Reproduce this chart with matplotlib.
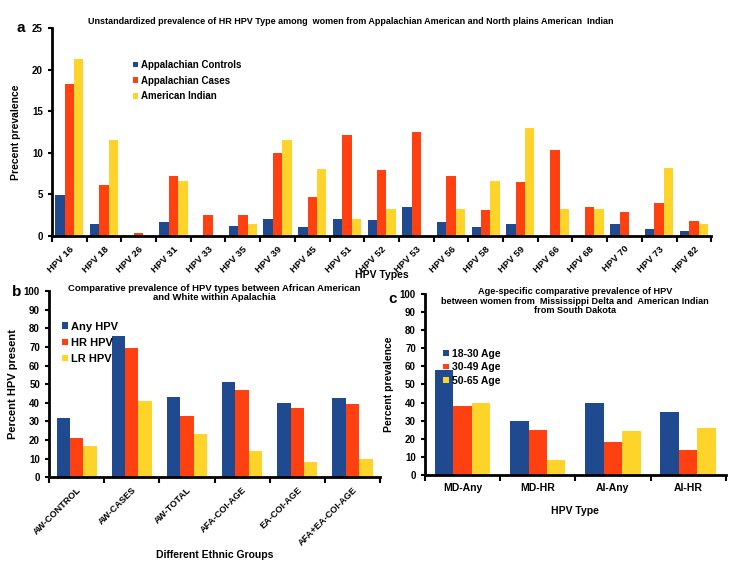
import numpy as np
import matplotlib
matplotlib.use('Agg')
import matplotlib.pyplot as plt

plt.rcParams['font.family'] = ['Liberation Sans', 'DejaVu Sans']
plt.rcParams['font.weight'] = 'bold'
plt.rcParams['axes.labelweight'] = 'bold'

BLUE = '#1f4a8f'
RED = '#ff4010'
YELLOW = '#ffd42a'

# panel a
hpv_types = ['HPV 16', 'HPV 18', 'HPV 26', 'HPV 31', 'HPV 33', 'HPV 35', 'HPV 39', 'HPV 45',
             'HPV 51', 'HPV 52', 'HPV 53', 'HPV 56', 'HPV 58', 'HPV 59', 'HPV 66', 'HPV 68',
             'HPV 70', 'HPV 73', 'HPV 82']
app_controls = [4.9, 1.5, 0, 1.7, 0, 1.25, 2.1, 1.05, 2.1, 1.9, 3.45, 1.65, 1.05, 1.5, 0, 0, 1.5, 0.8, 0.65]
app_cases = [18.3, 6.1, 0.36, 7.2, 2.5, 2.5, 10.0, 4.65, 12.2, 7.9, 12.55, 7.2, 3.15, 6.45, 10.4, 3.55, 2.9, 4.0, 1.75]
am_indian = [21.3, 11.5, 0, 6.6, 0, 1.5, 11.5, 8.1, 2.0, 3.25, 0, 3.25, 6.6, 13.0, 3.25, 3.25, 0, 8.15, 1.5]

# panel b
ethnic_groups = ['AW-CONTROL', 'AW-CASES', 'AW-TOTAL', 'AFA-COI-AGE', 'EA-COI-AGE', 'AFA+EA-COI-AGE']
any_hpv = [32, 76, 43, 51, 40, 42.5]
hr_hpv = [21, 69.5, 33, 47, 37, 39.5]
lr_hpv = [17, 41, 23, 14, 8, 10]

# panel c
hpv_groups = ['MD-Any', 'MD-HR', 'AI-Any', 'AI-HR']
age_18_30 = [58, 30, 40, 35]
age_30_49 = [38, 25, 18, 14]
age_50_65 = [40, 8, 24, 26]


def style_axes(ax, n, ymax, ystep):
    for s in ['top', 'right']:
        ax.spines[s].set_visible(False)
    for s in ['left', 'bottom']:
        ax.spines[s].set_linewidth(2)
    ax.set_xlim(-0.5, n - 0.5)
    ax.set_ylim(0, ymax)
    ax.set_yticks(np.arange(0, ymax + 1, ystep))
    ax.set_xticks(np.arange(n))
    ax.set_xticks(np.arange(n + 1) - 0.5, minor=True)
    ax.tick_params(axis='x', which='major', length=0, pad=6)
    ax.tick_params(axis='x', which='minor', length=4, width=1.5, direction='out')
    ax.tick_params(axis='y', length=3, width=1.5, labelsize=7)


def grouped(ax, series, colors, labels, w):
    x = np.arange(len(series[0]))
    for i, (vals, c, lab) in enumerate(zip(series, colors, labels)):
        ax.bar(x + (i - 1) * w, vals, w, color=c, label=lab)


fig = plt.figure(figsize=(7.39, 5.62), dpi=100)

# ---- a
ax1 = fig.add_axes([0.0704, 0.580, 0.892, 0.370])
grouped(ax1, [app_controls, app_cases, am_indian], [BLUE, RED, YELLOW],
        ['Appalachian Controls', 'Appalachian Cases', 'American Indian'], 0.27)
style_axes(ax1, len(hpv_types), 25, 5)
ax1.set_xticklabels(hpv_types, rotation=45, ha='right', rotation_mode='anchor', fontsize=6.8)
ax1.set_ylabel('Precent prevalence', fontsize=7.5, labelpad=8)
ax1.set_xlabel('HPV Types', fontsize=7.5, labelpad=-3)
ax1.legend(loc='upper left', bbox_to_anchor=(0.11, 0.89), frameon=False, fontsize=7,
           handlelength=0.5, handleheight=0.5, handletextpad=0.3, labelspacing=0.6)
fig.text(0.475, 0.962, 'Unstandardized prevalence of HR HPV Type among  women from Appalachian American and North plains American  Indian',
         ha='center', va='center', fontsize=6.5)
fig.text(0.022, 0.950, 'a', fontsize=11, va='center')

# ---- b
ax2 = fig.add_axes([0.0663, 0.151, 0.448, 0.331])
grouped(ax2, [any_hpv, hr_hpv, lr_hpv], [BLUE, RED, YELLOW], ['Any HPV', 'HR HPV', 'LR HPV'], 0.242)
style_axes(ax2, len(ethnic_groups), 100, 10)
ax2.set_xticklabels(ethnic_groups, rotation=45, ha='right', rotation_mode='anchor', fontsize=6.6)
ax2.set_ylabel('Percent HPV present', fontsize=8, labelpad=4)
ax2.set_xlabel('Different Ethnic Groups', fontsize=7.5, labelpad=2)
ax2.legend(loc='upper left', bbox_to_anchor=(0.01, 0.89), frameon=False, fontsize=8,
           handlelength=0.5, handleheight=0.5, handletextpad=0.3, labelspacing=0.55)
ax2.text(0.5, 0.99, 'Comparative prevalence of HPV types between African American\nand White within Apalachia',
         transform=ax2.transAxes, ha='center', va='center', fontsize=6.8, linespacing=1.1)
fig.text(0.016, 0.480, 'b', fontsize=11, va='center')

# ---- c
ax3 = fig.add_axes([0.575, 0.155, 0.407, 0.322])
grouped(ax3, [age_18_30, age_30_49, age_50_65], [BLUE, RED, YELLOW], ['18-30 Age', '30-49 Age', '50-65 Age'], 0.245)
style_axes(ax3, len(hpv_groups), 100, 10)
ax3.set_xticklabels(hpv_groups, fontsize=7.5)
ax3.set_ylabel('Percent prevalence', fontsize=7.5, labelpad=4)
ax3.set_xlabel('HPV Type', fontsize=7.5, labelpad=9)
ax3.legend(loc='upper left', bbox_to_anchor=(0.03, 0.75), frameon=False, fontsize=7.5,
           handlelength=0.5, handleheight=0.5, handletextpad=0.3, labelspacing=0.35)
ax3.text(0.5, 0.96, 'Age-specific comparative prevalence of HPV\nbetween women from  Mississippi Delta and  American Indian\nfrom South Dakota',
         transform=ax3.transAxes, ha='center', va='center', fontsize=6.6, linespacing=1.05)
fig.text(0.526, 0.468, 'c', fontsize=11, va='center')

fig.savefig('out.png', dpi=100)
